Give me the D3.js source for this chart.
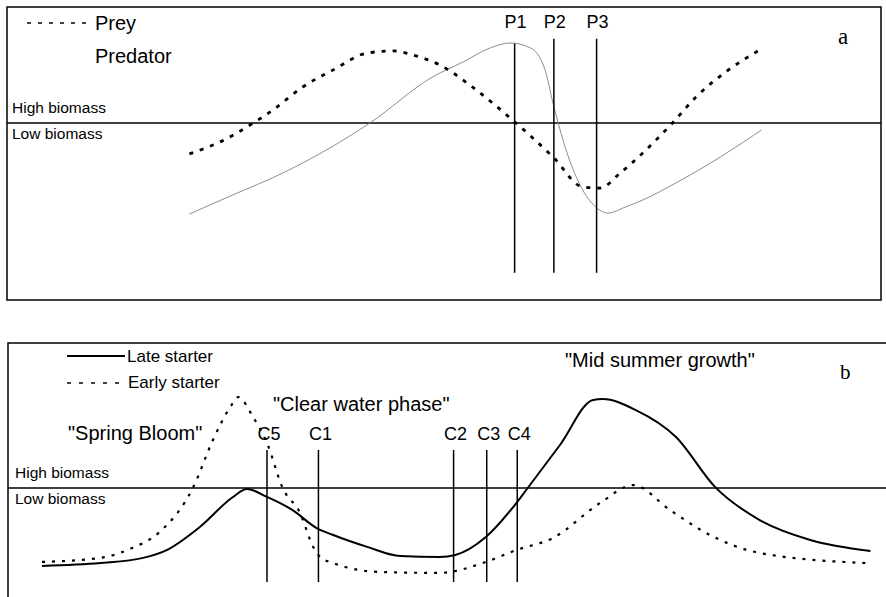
<!DOCTYPE html>
<html>
<head>
<meta charset="utf-8">
<script src="https://cdn.jsdelivr.net/npm/d3@7"></script>
<style>
  body { margin: 0; background: #fff; }
  text { font-family: "Liberation Sans", Arial, sans-serif; fill: #000; }
  .tag { font-family: "Liberation Serif", "Times New Roman", serif; }
</style>
</head>
<body>
<div id="chart"></div>
<script>
// panel a: prey / predator cycle (time 0-100, biomass 0-100, threshold at 50)
let preyT = [20.8,24.3,28.3,30.4,33.8,37.3,41.2,44.2,46.4,49.5,53.7,57.6,62.5,65.9,67.9,70.2,72.8,76.2,78.9,82.3,86.0];
let preyB = [36.8,41.9,50.4,55.6,65.4,72.7,79.9,80.8,79.1,74.8,64.1,52.1,35.5,22.7,22.2,28.6,37.2,50.0,61.1,71.8,80.8];

let predT = [20.8,25.5,31.5,36.9,41.5,48.7,52.2,55.3,57.6,59.9,61.6,62.5,64.0,65.6,67.4,68.8,70.8,72.8,76.6,81.7,86.4];
let predB = [11.1,18.8,28.6,39.3,50.0,69.7,76.1,82.1,84.2,82.1,72.6,58.5,38.5,23.5,14.1,11.5,14.1,17.1,24.4,35.5,47.0];

let pLabels = ["P1","P2","P3"];
let pTimes = [58.1,62.6,67.5];
let pTop = [84,86,86];
let pBottom = -14;

// panel b: late vs early starter
let lateT = [3.9,10.6,15.5,18.2,22.0,25.8,27.4,29.7,32.6,35.4,37.3,41.2,45.0,49.5,51.3,54.8,58.3,59.6,63.3,67.1,68.2,72.0,76.6,81.1,86.2,92.0,98.9];
let lateB = [15.2,16.5,18.8,22.3,32.6,46.0,49.6,46.0,40.2,32.1,29.0,23.7,19.6,19.2,20.1,28.1,43.3,50.0,69.2,89.3,89.7,84.8,72.8,50.4,35.7,26.8,21.9];

let earlyT = [3.9,10.6,14.0,17.4,21.2,23.5,25.5,26.4,28.1,29.7,31.5,33.5,35.0,35.8,37.3,42.7,49.5,54.8,58.3,62.5,67.9,71.7,75.9,80.5,86.2,98.4];
let earlyB = [17.0,18.8,22.8,30.4,50.0,71.4,86.2,90.6,81.7,70.1,50.0,38.8,23.7,19.2,16.5,12.5,12.1,17.0,22.3,27.7,43.3,51.3,40.2,29.0,21.0,16.5];

let cLabels = ["C5","C1","C2","C3","C4"];
let cTimes = [29.7,35.6,51.1,54.9,58.4];
let cTop = 67;
let cBottom = 8;

let threshold = 50;

let svgWidth = 886;
let svgHeight = 597;

let svg = d3.select("#chart")
  .append("svg")
  .attr("width", svgWidth)
  .attr("height", svgHeight)

svg.append("rect").attr("width", svgWidth).attr("height", svgHeight).attr("fill", "#fff")

let xScale = d3.scaleLinear().domain([0,100]).range([8,880])
let yScaleA = d3.scaleLinear().domain([0,100]).range([240,6])
let yScaleB = d3.scaleLinear().domain([0,100]).range([600,376])

function pts(ts, bs) {
  return ts.map((t,i) => [t, bs[i]])
}

function lineGen(yScale) {
  return d3.line()
    .x(d => xScale(d[0]))
    .y(d => yScale(d[1]))
    .curve(d3.curveMonotoneX)
}

// ---------- panel a ----------
let ga = svg.append("g")

ga.append("rect")
  .attr("x", 7).attr("y", 7)
  .attr("width", 874).attr("height", 293)
  .attr("fill", "none").attr("stroke", "#000").attr("stroke-width", 1.5)

ga.append("line")
  .attr("x1", 7).attr("x2", 881)
  .attr("y1", yScaleA(threshold)).attr("y2", yScaleA(threshold))
  .attr("stroke", "#000").attr("stroke-width", 1.3)

ga.append("path")
  .attr("d", lineGen(yScaleA)(pts(predT, predB)))
  .attr("fill", "none").attr("stroke", "#808080").attr("stroke-width", 0.9)

ga.append("path")
  .attr("d", lineGen(yScaleA)(pts(preyT, preyB)))
  .attr("fill", "none").attr("stroke", "#000").attr("stroke-width", 2.8)
  .attr("stroke-dasharray", "4,7")

ga.selectAll(".pline")
  .data(pTimes)
  .enter()
  .append("line")
  .attr("x1", d => xScale(d)).attr("x2", d => xScale(d))
  .attr("y1", (d,i) => yScaleA(pTop[i])).attr("y2", yScaleA(pBottom))
  .attr("stroke", "#000").attr("stroke-width", 1.5)

ga.selectAll(".plabel")
  .data(pLabels)
  .enter()
  .append("text")
  .attr("x", (d,i) => xScale(pTimes[i]) + 1)
  .attr("y", 28)
  .attr("text-anchor", "middle")
  .style("font-size", "18px")
  .text(d => d)

ga.append("line")
  .attr("x1", 27).attr("x2", 88).attr("y1", 23).attr("y2", 23)
  .attr("stroke", "#000").attr("stroke-width", 1.5).attr("stroke-dasharray", "4,7")
ga.append("text").attr("x", 95).attr("y", 30).style("font-size", "20px").text("Prey")
ga.append("text").attr("x", 95).attr("y", 63).style("font-size", "20px").text("Predator")
ga.append("text").attr("x", 12).attr("y", 113).style("font-size", "15.5px").text("High biomass")
ga.append("text").attr("x", 12).attr("y", 139).style("font-size", "15.5px").text("Low biomass")
ga.append("text").attr("class", "tag").attr("x", 838).attr("y", 44).style("font-size", "23px").text("a")

// ---------- panel b ----------
let gb = svg.append("g")

gb.append("path")
  .attr("d", "M8,597 L8,343 L886,343")
  .attr("fill", "none").attr("stroke", "#000").attr("stroke-width", 1.5)

gb.append("line")
  .attr("x1", 8).attr("x2", 886)
  .attr("y1", yScaleB(threshold)).attr("y2", yScaleB(threshold))
  .attr("stroke", "#000").attr("stroke-width", 1.3)

gb.append("path")
  .attr("d", lineGen(yScaleB)(pts(earlyT, earlyB)))
  .attr("fill", "none").attr("stroke", "#000").attr("stroke-width", 2.2)
  .attr("stroke-dasharray", "3,7")

gb.append("path")
  .attr("d", lineGen(yScaleB)(pts(lateT, lateB)))
  .attr("fill", "none").attr("stroke", "#000").attr("stroke-width", 2)

gb.selectAll(".cline")
  .data(cTimes)
  .enter()
  .append("line")
  .attr("x1", d => xScale(d)).attr("x2", d => xScale(d))
  .attr("y1", yScaleB(cTop)).attr("y2", yScaleB(cBottom))
  .attr("stroke", "#000").attr("stroke-width", 1.5)

gb.selectAll(".clabel")
  .data(cLabels)
  .enter()
  .append("text")
  .attr("x", (d,i) => xScale(cTimes[i]) + 2)
  .attr("y", 440)
  .attr("text-anchor", "middle")
  .style("font-size", "18px")
  .text(d => d)

gb.append("line")
  .attr("x1", 67).attr("x2", 125).attr("y1", 356).attr("y2", 356)
  .attr("stroke", "#000").attr("stroke-width", 2)
gb.append("text").attr("x", 127).attr("y", 362).style("font-size", "17px").text("Late starter")
gb.append("line")
  .attr("x1", 67).attr("x2", 125).attr("y1", 383).attr("y2", 383)
  .attr("stroke", "#000").attr("stroke-width", 1.5).attr("stroke-dasharray", "4,8")
gb.append("text").attr("x", 128).attr("y", 388).style("font-size", "17px").text("Early starter")

gb.append("text").attr("x", 68).attr("y", 440).style("font-size", "20px").text("\"Spring Bloom\"")
gb.append("text").attr("x", 273).attr("y", 411).style("font-size", "20px").text("\"Clear water phase\"")
gb.append("text").attr("x", 565).attr("y", 367).style("font-size", "20px").text("\"Mid summer growth\"")
gb.append("text").attr("x", 15).attr("y", 478).style("font-size", "15.5px").text("High biomass")
gb.append("text").attr("x", 15).attr("y", 504).style("font-size", "15.5px").text("Low biomass")
gb.append("text").attr("class", "tag").attr("x", 840).attr("y", 379).style("font-size", "21px").text("b")
</script>
</body>
</html>
